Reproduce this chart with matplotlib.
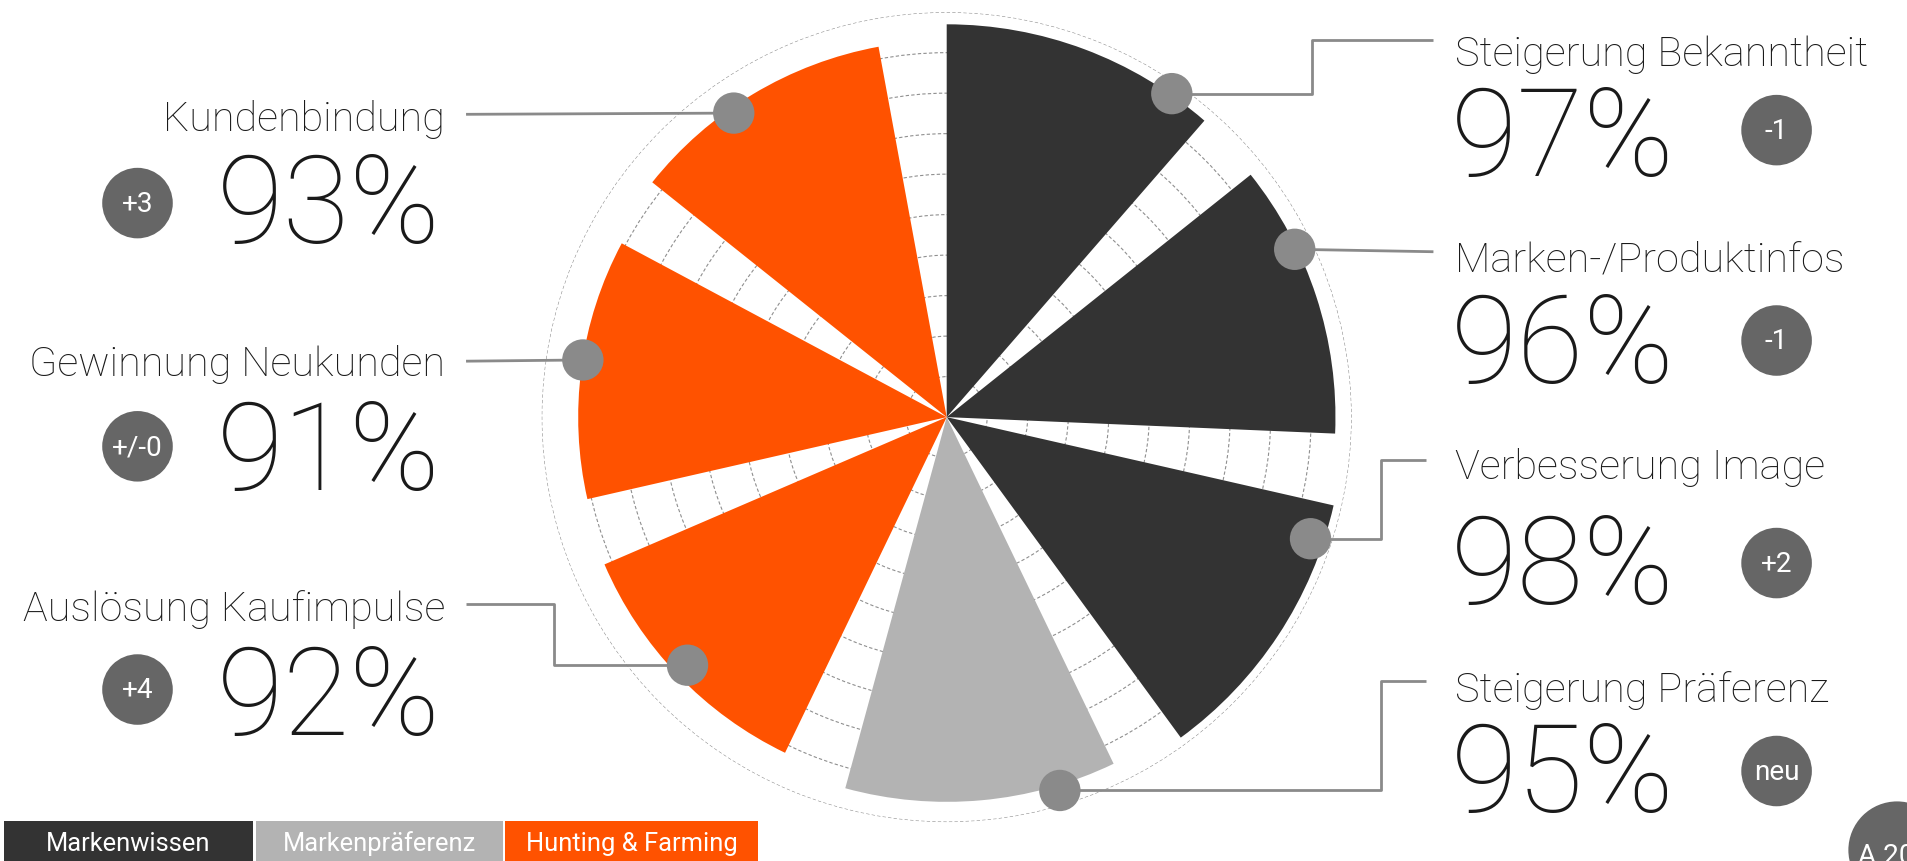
import matplotlib.pyplot as plt
import numpy as np
from matplotlib.patches import Circle, Rectangle

# werte im uhrzeigersinn ab 12 uhr
kategorien = ['Steigerung Bekanntheit', 'Marken-/Produktinfos', 'Verbesserung Image',
              'Steigerung Präferenz', 'Auslösung Kaufimpulse', 'Gewinnung Neukunden',
              'Kundenbindung']
werte = [97, 96, 98, 95, 92, 91, 93]
veraenderung = ['-1', '-1', '+2', 'neu', '+4', '+/-0', '+3']
gruppe = ['Markenwissen', 'Markenwissen', 'Markenwissen', 'Markenpräferenz',
          'Hunting & Farming', 'Hunting & Farming', 'Hunting & Farming']
legende = ['Markenwissen', 'Markenpräferenz', 'Hunting & Farming']
farben = {'Markenwissen': '#333333', 'Markenpräferenz': '#b3b3b3',
          'Hunting & Farming': '#ff5200'}

W, H = 1568, 708          # layout-raster (pixel der vorlage)
S = 1908 / W
FONT = ['Roboto', 'DejaVu Sans']


def pt(px):
    # pixelhoehe im layout-raster -> punkte
    return px * S * 72 / 100


fig = plt.figure(figsize=(19.08, 8.61), dpi=100)

# polar-diagramm
cx, cy, R = 778, 343, 333
pax = fig.add_axes([(cx - R) / W, 1 - (cy + R) / H, 2 * R / W, 2 * R / H], projection='polar')
pax.set_theta_zero_location('N')
pax.set_theta_direction(-1)
n = len(werte)
step = 2 * np.pi / n
theta = np.arange(n) * step
pax.bar(theta, werte, width=np.deg2rad(41), align='edge',
        color=[farben[g] for g in gruppe], linewidth=0, zorder=3)
pax.set_ylim(0, 100)
pax.set_yticks(np.arange(10, 101, 10))
pax.set_yticklabels([])
pax.set_xticks([])
pax.set_axisbelow(True)
pax.yaxis.grid(True, color='#8f8f8f', linewidth=0.8, linestyle=(0, (3, 2)))
pax.spines['polar'].set_visible(False)
pax.set_facecolor('none')

# overlay fuer texte, linien, punkte
ax = fig.add_axes([0, 0, 1, 1], zorder=5)
ax.set_xlim(0, W)
ax.set_ylim(H, 0)
ax.axis('off')
ax.patch.set_alpha(0)

txt = '#1a1a1a'
grau = '#8a8a8a'
badge = '#666666'

# position je kategorie: (seite, label-baseline, zahl-baseline, badge-y)
lay = [
    ('r', 54, 145, 107),
    ('r', 223, 315, 280),
    ('r', 394, 497, 463),
    ('r', 577, 668, 634),
    ('l', 511, 604, 567),
    ('l', 309, 403, 367),
    ('l', 108, 200, 167),
]

# verbindungslinien mit punkt am segment
linien = [
    ([1178, 1078, 1078, 963], [33, 33, 77, 77]),
    ([1178, 1064], [207, 205]),
    ([1172, 1135, 1135, 1077], [378, 378, 443, 443]),
    ([1172, 1135, 1135, 871], [560, 560, 650, 650]),
    ([383, 455, 455, 565], [497, 497, 547, 547]),
    ([383, 479], [297, 296]),
    ([383, 603], [94, 93]),
]

for i in range(n):
    seite, yl, yz, yb = lay[i]
    xs, ys = linien[i]
    ax.plot(xs, ys, color=grau, lw=2.0, solid_capstyle='butt', zorder=2)
    ax.add_patch(Circle((xs[-1], ys[-1]), 17, color=grau, zorder=3, lw=0))
    if seite == 'r':
        ax.text(1196, yl, kategorien[i], ha='left', va='baseline', fontsize=pt(34),
                color=txt, family=FONT, fontweight='light')
        ax.text(1192, yz, f'{werte[i]}%', ha='left', va='baseline', fontsize=pt(100),
                color=txt, family=FONT, fontweight='light')
        bx = 1460
    else:
        ax.text(366, yl, kategorien[i], ha='right', va='baseline', fontsize=pt(34),
                color=txt, family=FONT, fontweight='light')
        ax.text(362, yz, f'{werte[i]}%', ha='right', va='baseline', fontsize=pt(100),
                color=txt, family=FONT, fontweight='light')
        bx = 113
    ax.add_patch(Circle((bx, yb), 29, color=badge, lw=0))
    ax.text(bx, yb + 1, veraenderung[i], ha='center', va='center', fontsize=pt(23),
            color='white', family=FONT)

# legende unten
lx = [3, 210, 415]
lw_ = [205, 203, 208]
for x0, b, name in zip(lx, lw_, legende):
    ax.add_patch(Rectangle((x0, 675), b, 33, color=farben[name], lw=0))
    ax.text(x0 + b / 2, 694, name, ha='center', va='center', fontsize=pt(21),
            color='white', family=FONT)

# seitennummer unten rechts (abgeschnitten wie in der vorlage)
ax.add_patch(Circle((1559, 699), 40, color=badge, lw=0, clip_on=False))
ax.text(1527, 704, 'A 20', ha='left', va='center', fontsize=pt(23), color='white',
        family=FONT)

fig.savefig('out.png', dpi=100)
